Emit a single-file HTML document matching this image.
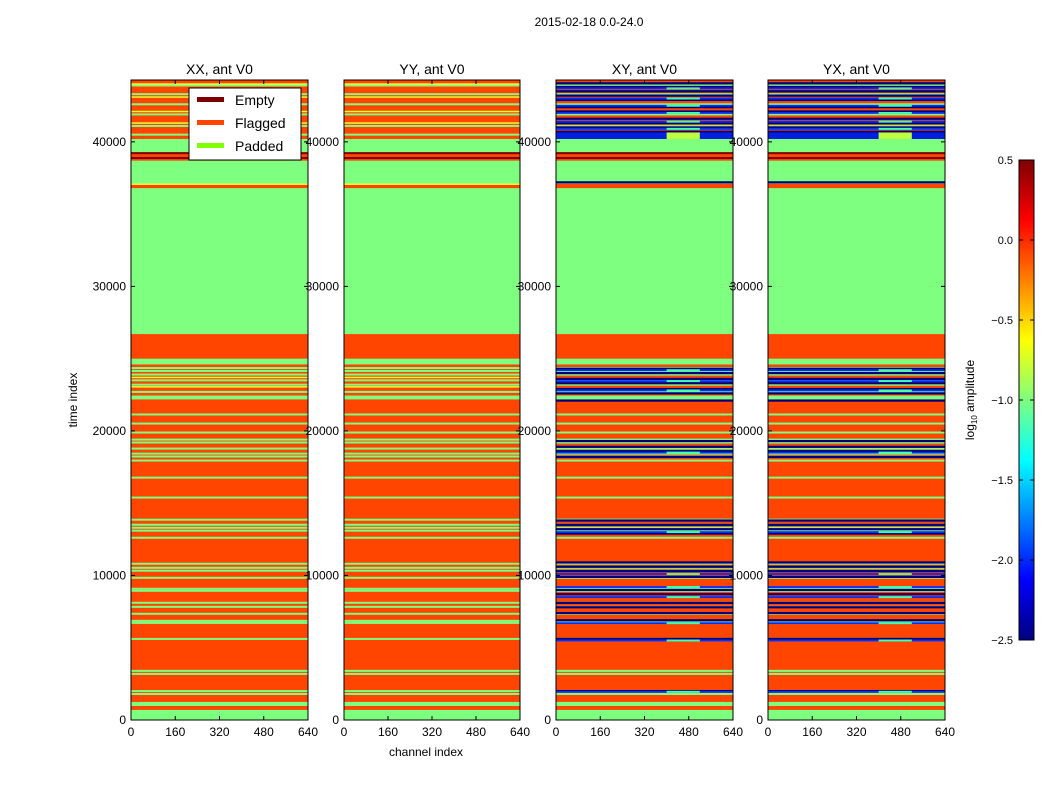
<!DOCTYPE html>
<html><head><meta charset="utf-8"><style>
html,body{margin:0;padding:0;background:#fff;}
svg{display:block;font-family:"Liberation Sans","DejaVu Sans",sans-serif;}
</style></head><body>
<svg id="fig" width="1050" height="800" viewBox="0 0 1050 800">
<defs>
<linearGradient id="jet" x1="0" y1="1" x2="0" y2="0">
<stop offset="0" stop-color="#00007f"/><stop offset="0.125" stop-color="#0000ff"/>
<stop offset="0.375" stop-color="#00ffff"/><stop offset="0.5" stop-color="#7fff7f"/><stop offset="0.625" stop-color="#ffff00"/>
<stop offset="0.875" stop-color="#ff0000"/><stop offset="1" stop-color="#7f0000"/>
</linearGradient>
</defs>
<text x="589" y="26" font-size="12" text-anchor="middle">2015-02-18 0.0-24.0</text>
<g id="panels"></g>
<text x="426" y="756" font-size="12" text-anchor="middle">channel index</text>
<text transform="translate(77,400) rotate(-90)" font-size="12" text-anchor="middle">time index</text>
<g id="cbar"></g>
</svg>
<script>
const titles = ["XX, ant V0","YY, ant V0","XY, ant V0","YX, ant V0"];
const xTicks = [0,160,320,480,640];
const yTicks = [0,10000,20000,30000,40000];
const cbTicks = [0.5,0.0,-0.5,-1.0,-1.5,-2.0,-2.5];
const tMax = 44280;
const chMax = 640;
const greenBands = [[0,700],[970,1250],[22180,22450],[24600,25000],[26700,36800],[37100,38700],[39200,40200]];
const greenLines = [1800,2000,3190,3400,5610,6720,6860,7350,7830,8110,8940,9080,9840,10330,10530,10810,12610,13100,13300,13510,13860,15390,16770,17950,18230,18430,18780,19200,19400,19890,20510,21140,22700,23200,23500,23900,24150,24350,40500,41100,41900,42600,43300,43900];
const yellowLines = [23050,23700,37070,41300,42100,43100,44000];
const emptyLines = [38880,39220];
const crossDark = [2000,5610,6900,7400,7800,8100,8700,9000,9900,10300,10600,10900,12900,13200,13500,13800,18200,18600,18900,19300,22100,22600,22900,23300,23600,24000,24300,37200,40700,41000,41300,41600,42100,42400,42900,43200,43500,43800,44050];
const crossBlue = [1950,5500,6700,8500,9200,10100,13000,18500,22800,23450,24200,40900,41400,42000,42500,43000,43700];

const NS="http://www.w3.org/2000/svg";
function mk(tag, attrs, parent){const e=document.createElementNS(NS,tag);for(const k in attrs)e.setAttribute(k,attrs[k]);parent.appendChild(e);return e;}
const panelX=[[131,308],[344,520],[556,733],[768,945]];
const yTop=80,bot=720;
function yS(t){return bot-(t/tMax)*(bot-yTop);}
const root=document.getElementById('panels');
titles.forEach((title,i)=>{
  const [x0,x1]=panelX[i];
  const xS=c=>x0+(c/chMax)*(x1-x0);
  const g=mk('g',{},root);
  
  
  const bg=mk('rect',{x:x0,y:yTop,width:x1-x0,height:bot-yTop,fill:'#ff4500'},g);
  
  
  greenBands.forEach(b=>{
    const r=mk('rect',{x:x0,y:yS(b[1]),width:x1-x0,height:yS(b[0])-yS(b[1]),fill:'#7fff7f'},g);
    
    
  });
  const line=(t,col,h,name)=>{
    const r=mk('rect',{x:x0,y:yS(t)-h/2,width:x1-x0,height:h,fill:col},g);
    
    
  };
  greenLines.forEach(t=>line(t,'#7fff7f',2,'padded-row'));
  if(i<2){
    yellowLines.forEach(t=>line(t,'#e8ff30',1.5,'amplitude-row'));
  } else {
    crossDark.forEach(t=>line(t,'#00007f',2.2,'amplitude-row'));
    crossBlue.forEach(t=>{
      line(t,'#0030ff',1.8,'amplitude-row');
      const p=mk('rect',{x:xS(400),y:yS(t)-1,width:xS(520)-xS(400),height:2,fill:'#40ffb0'},g);
      
      
    });
    const hb=mk('rect',{x:x0,y:yS(40650),width:x1-x0,height:yS(40200)-yS(40650),fill:'#0020e0'},g);
    
    
    const hp=mk('rect',{x:xS(400),y:yS(40650),width:xS(520)-xS(400),height:yS(40200)-yS(40650),fill:'#c0ff40'},g);
    
    
  }
  emptyLines.forEach(t=>line(t,'#7f0000',2,'empty-row'));
  const fr=mk('rect',{x:x0,y:yTop,width:x1-x0,height:bot-yTop,fill:'none',stroke:'#000','stroke-width':1},g);
  
  
  const tt=mk('text',{x:(x0+x1)/2,y:74,'font-size':14,'text-anchor':'middle'},g);
  tt.textContent=title;
  
  
  xTicks.forEach(c=>{
    const x=xS(c);
    mk('line',{x1:x,x2:x,y1:bot,y2:bot-4,stroke:'#000'},g);
    mk('line',{x1:x,x2:x,y1:yTop,y2:yTop+4,stroke:'#000'},g);
    const tx=mk('text',{x:x,y:736,'font-size':12,'text-anchor':'middle'},g);
    tx.textContent=c;
    
    
  });
  yTicks.forEach(v=>{
    const y=yS(v);
    mk('line',{x1:x0,x2:x0+4,y1:y,y2:y,stroke:'#000'},g);
    mk('line',{x1:x1,x2:x1-4,y1:y,y2:y,stroke:'#000'},g);
    const ty=mk('text',{x:x0-5,y:y+4,'font-size':12,'text-anchor':'end'},g);
    ty.textContent=v;
    
    
  });
});
const lg=mk('g',{},root);


mk('rect',{x:189,y:88,width:112,height:72,fill:'#fff',stroke:'#000'},lg);
const legItems=[["Empty","#7f0000"],["Flagged","#ff4500"],["Padded","#7fff00"]];
legItems.forEach((it,k)=>{
  const y=100+k*23;
  const sw=mk('rect',{x:197,y:y-3,width:27,height:5,fill:it[1]},lg);
  
  
  const t=mk('text',{x:235,y:y+5,'font-size':14},lg);
  t.textContent=it[0];
  
  
});
const cb=document.getElementById('cbar');
const cbTop=160,cbBot=640,cbMin=-2.5,cbMax=0.5;
const cS=v=>cbBot-(v-cbMin)/(cbMax-cbMin)*(cbBot-cbTop);
mk('rect',{x:1019,y:cbTop,width:15,height:cbBot-cbTop,fill:'url(#jet)',stroke:'#000'},cb);
cbTicks.forEach(v=>{
  const y=cS(v);
  mk('line',{x1:1019,x2:1023,y1:y,y2:y,stroke:'#000'},cb);
  mk('line',{x1:1034,x2:1030,y1:y,y2:y,stroke:'#000'},cb);
  const t=mk('text',{x:1013,y:y+4,'font-size':11,'text-anchor':'end'},cb);
  t.textContent=(v<0?'\u2212':'')+Math.abs(v).toFixed(1);
  
  
});
const cl=mk('text',{transform:'translate(974,400) rotate(-90)','font-size':12,'text-anchor':'middle'},cb);
cl.innerHTML='log<tspan font-size="8" dy="3">10</tspan><tspan dy="-3"> amplitude</tspan>';


</script>
</body></html>
